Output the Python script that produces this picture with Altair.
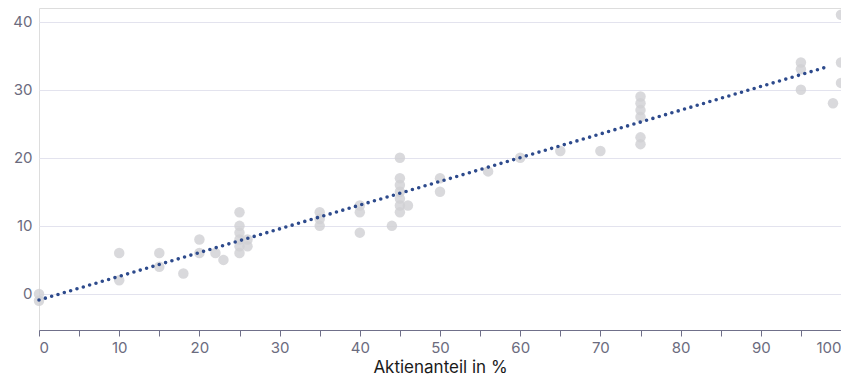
import altair as alt
import pandas as pd

# Scatter data: Aktienanteil (%) vs. value
share = [0, 0, 10, 10, 15, 15, 18, 20, 20, 22, 23,
         25, 25, 25, 25, 25, 25, 26, 26,
         35, 35, 35, 40, 40, 40, 44,
         45, 45, 45, 45, 45, 45, 45, 46,
         50, 50, 56, 60, 65, 70,
         75, 75, 75, 75, 75, 75,
         95, 95, 95, 99, 100, 100, 100]
value = [0, -1, 6, 2, 6, 4, 3, 8, 6, 6, 5,
         12, 10, 9, 8, 7, 6, 8, 7,
         12, 11, 10, 13, 12, 9, 10,
         20, 17, 16, 15, 14, 13, 12, 13,
         17, 15, 18, 20, 21, 21,
         29, 28, 27, 26, 23, 22,
         34, 33, 30, 28, 41, 34, 31]

# Trend line end points
line_x = [0, 98.4]
line_y = [-0.9, 33.4]

x_ticks = list(range(0, 101, 5))
y_ticks = [0, 10, 20, 30, 40]

pts = pd.DataFrame({"x": share, "y": value})
trend = pd.DataFrame({"x": line_x, "y": line_y})

xscale = alt.Scale(domain=[0, 100], nice=False, zero=False)
yscale = alt.Scale(domain=[-5.3, 42], nice=False, zero=False)

xaxis = alt.Axis(
    title="Aktienanteil in %",
    values=x_ticks,
    labelExpr="datum.value % 10 == 0 ? datum.label : ''",
    grid=False,
    domainColor="#70708a",
    tickColor="#70708a",
    tickSize=6,
    labelColor="#6b6b7e",
    labelFontSize=15,
    labelPadding=4,
    titleFontSize=17,
    titleFontWeight="normal",
    titleColor="#1a1a1a",
    titlePadding=4,
)
yaxis = alt.Axis(
    title=None,
    values=y_ticks,
    grid=True,
    gridColor="#e3e3ee",
    domain=False,
    ticks=False,
    labelColor="#6b6b7e",
    labelFontSize=15,
    labelPadding=7,
)

points = alt.Chart(pts).mark_circle(size=110, color="#cfcfd3", opacity=0.8).encode(
    x=alt.X("x:Q", scale=xscale, axis=xaxis),
    y=alt.Y("y:Q", scale=yscale, axis=yaxis),
)

line = alt.Chart(trend).mark_line(
    color="#2d4a8c", strokeWidth=3.6, strokeDash=[0, 6.6], strokeCap="round"
).encode(
    x=alt.X("x:Q", scale=xscale),
    y=alt.Y("y:Q", scale=yscale),
)

chart = alt.layer(points, line).properties(
    width=802,
    height=322,
    autosize=alt.AutoSizeParams(type="none"),
    padding={"left": 31, "top": 0, "right": 0, "bottom": 45},
).configure_view(strokeWidth=0, stroke="transparent").configure(
    font="Inter"
).configure_axis(labelFont="Inter", titleFont="Inter")

chart.save("out.html", embed_options={"renderer": "svg", "actions": False})
